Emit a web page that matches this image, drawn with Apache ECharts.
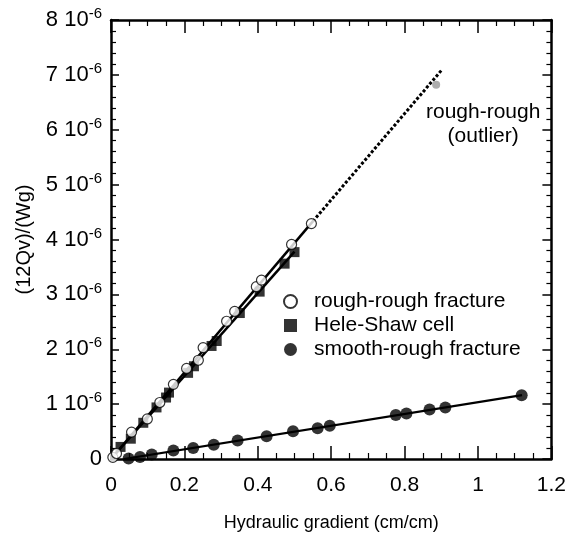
<!DOCTYPE html>
<html><head><meta charset="utf-8">
<script src="https://cdn.jsdelivr.net/npm/echarts@6/dist/echarts.min.js"></script>
<style>html,body{margin:0;padding:0;background:#fff}#c{width:569px;height:537px}</style>
</head><body><div id="c"></div>
<script>
// rough-rough fracture (open circles)
var roughX = [0.005, 0.015, 0.056, 0.099, 0.133, 0.170, 0.206, 0.238, 0.251, 0.315, 0.337, 0.396, 0.410, 0.492, 0.546];
var roughY = [0.03e-6, 0.10e-6, 0.49e-6, 0.73e-6, 1.03e-6, 1.36e-6, 1.65e-6, 1.80e-6, 2.03e-6, 2.51e-6, 2.69e-6, 3.14e-6, 3.26e-6, 3.91e-6, 4.29e-6];
// Hele-Shaw cell (filled squares)
var heleX = [0.026, 0.054, 0.088, 0.124, 0.150, 0.158, 0.210, 0.226, 0.274, 0.288, 0.351, 0.405, 0.473, 0.500];
var heleY = [0.22e-6, 0.37e-6, 0.66e-6, 0.94e-6, 1.12e-6, 1.21e-6, 1.57e-6, 1.69e-6, 2.06e-6, 2.15e-6, 2.66e-6, 3.05e-6, 3.56e-6, 3.77e-6];
// smooth-rough fracture (filled circles)
var smoothX = [0.048, 0.079, 0.111, 0.170, 0.224, 0.280, 0.345, 0.424, 0.496, 0.563, 0.596, 0.776, 0.805, 0.868, 0.911, 1.119];
var smoothY = [0.01e-6, 0.036e-6, 0.08e-6, 0.154e-6, 0.20e-6, 0.26e-6, 0.335e-6, 0.416e-6, 0.506e-6, 0.56e-6, 0.606e-6, 0.80e-6, 0.83e-6, 0.90e-6, 0.94e-6, 1.163e-6];
// outlier
var outlierX = [0.886];
var outlierY = [6.82e-6];
// fitted lines
var roughFitX = [0, 0.55];
var roughFitY = [0, 4.33e-6];
var roughExtX = [0.55, 0.90];
var roughExtY = [4.33e-6, 7.08e-6];
var heleFitX = [0, 0.50];
var heleFitY = [0, 3.78e-6];
var smoothFitX = [0.035, 1.12];
var smoothFitY = [0.0, 1.165e-6];

function pairs(xs, ys){ return xs.map(function(x,i){ return [x, ys[i]]; }); }

var FONT = 'Liberation Sans';
var chart = echarts.init(document.getElementById('c'));
var axisCommon = {
  axisLine: {show: true, onZero: false, lineStyle: {color: '#000', width: 2.5}},
  splitLine: {show: false}
};
chart.setOption({
  backgroundColor: '#fff',
  animation: false,
  textStyle: {fontFamily: FONT, color: '#000'},
  grid: {left: 111, right: 17, top: 20, bottom: 75},
  xAxis: [
    Object.assign({type: 'value', min: 0, max: 1.2, interval: 0.2, position: 'bottom',
      name: 'Hydraulic gradient (cm/cm)', nameLocation: 'middle', nameGap: 55,
      nameTextStyle: {fontFamily: FONT, fontSize: 18, color: '#000'},
      axisTick: {show: true, inside: true, length: 13, lineStyle: {color: '#000', width: 1.5}},
      minorTick: {show: true, splitNumber: 4, length: 6, lineStyle: {color: '#000', width: 1.2}},
      axisLabel: {fontFamily: FONT, fontSize: 21, color: '#000', margin: 16,
        formatter: function(v){ return String(Math.round(v*10)/10); }}
    }, axisCommon),
    Object.assign({type: 'value', min: 0, max: 1.2, interval: 0.2, position: 'top',
      axisTick: {show: true, inside: true, length: 13, lineStyle: {color: '#000', width: 1.5}},
      minorTick: {show: true, splitNumber: 4, length: 6, lineStyle: {color: '#000', width: 1.2}},
      axisLabel: {show: false}
    }, axisCommon)
  ],
  yAxis: [
    Object.assign({type: 'value', min: 0, max: 8e-6, interval: 1e-6, position: 'left',
      name: '(12Qv)/(Wg)', nameLocation: 'middle', nameGap: 77, nameRotate: 90,
      nameTextStyle: {fontFamily: FONT, fontSize: 20, color: '#000'},
      axisTick: {show: true, inside: true, length: 8, lineStyle: {color: '#000', width: 1.5}},
      minorTick: {show: true, splitNumber: 5, length: 5, lineStyle: {color: '#000', width: 1.2}},
      axisLabel: {fontFamily: FONT, fontSize: 22, color: '#000', margin: 9,
        formatter: function(v){
          var n = Math.round(v*1e6);
          if (n === 0) return '{n|0}';
          return '{n|' + n + ' 10}{s|-6}';
        },
        rich: {
          n: {fontFamily: FONT, fontSize: 22, color: '#000'},
          s: {fontFamily: FONT, fontSize: 15, color: '#000', verticalAlign: 'bottom', padding: [0,0,12,0]}
        }
      }
    }, axisCommon),
    Object.assign({type: 'value', min: 0, max: 8e-6, interval: 1e-6, position: 'right',
      axisTick: {show: true, inside: true, length: 9, lineStyle: {color: '#000', width: 1.5}},
      minorTick: {show: true, splitNumber: 5, length: 5, lineStyle: {color: '#000', width: 1.2}},
      axisLabel: {show: false}
    }, axisCommon)
  ],
  legend: {
    orient: 'vertical', left: 283, top: 291, padding: 0, itemGap: 3, itemWidth: 13, itemHeight: 13,
    textStyle: {fontFamily: FONT, fontSize: 21, color: '#000000', opacity: 1, padding: [0,0,0,12]},
    data: [
      {name: 'rough-rough fracture', icon: 'circle'},
      {name: 'Hele-Shaw cell', icon: 'rect'},
      {name: 'smooth-rough fracture', icon: 'circle'}
    ]
  },
  series: [
    {type: 'line', data: pairs(roughFitX, roughFitY), symbol: 'none', lineStyle: {color: '#000', width: 2.5}, z: 2},
    {type: 'line', data: pairs(roughExtX, roughExtY), symbol: 'none', lineStyle: {color: '#000', width: 3, type: [3, 2]}, z: 2},
    {type: 'line', data: pairs(heleFitX, heleFitY), symbol: 'none', lineStyle: {color: '#000', width: 2.5}, z: 2},
    {type: 'line', data: pairs(smoothFitX, smoothFitY), symbol: 'none', lineStyle: {color: '#000', width: 2.2}, z: 2},
    {name: 'Hele-Shaw cell', type: 'scatter', data: pairs(heleX, heleY), symbol: 'rect', symbolSize: 10,
      itemStyle: {color: '#000'}, z: 3},
    {name: 'rough-rough fracture', type: 'scatter', data: pairs(roughX, roughY), symbol: 'circle', symbolSize: 10,
      itemStyle: {color: '#fff', borderColor: '#000', borderWidth: 1.2}, z: 4},
    {name: 'smooth-rough fracture', type: 'scatter', data: pairs(smoothX, smoothY), symbol: 'circle', symbolSize: 12,
      itemStyle: {color: '#000'}, z: 3},
    {name: 'outlier', type: 'scatter', data: pairs(outlierX, outlierY), symbol: 'circle', symbolSize: 8,
      itemStyle: {color: '#999'}, z: 3,
      label: {show: true, position: 'bottom', distance: 5, offset: [47, 6], align: 'center',
        formatter: 'rough-rough\n(outlier)', fontFamily: FONT, fontSize: 21, lineHeight: 24, color: '#000000', opacity: 1}}
  ]
});
</script></body></html>
